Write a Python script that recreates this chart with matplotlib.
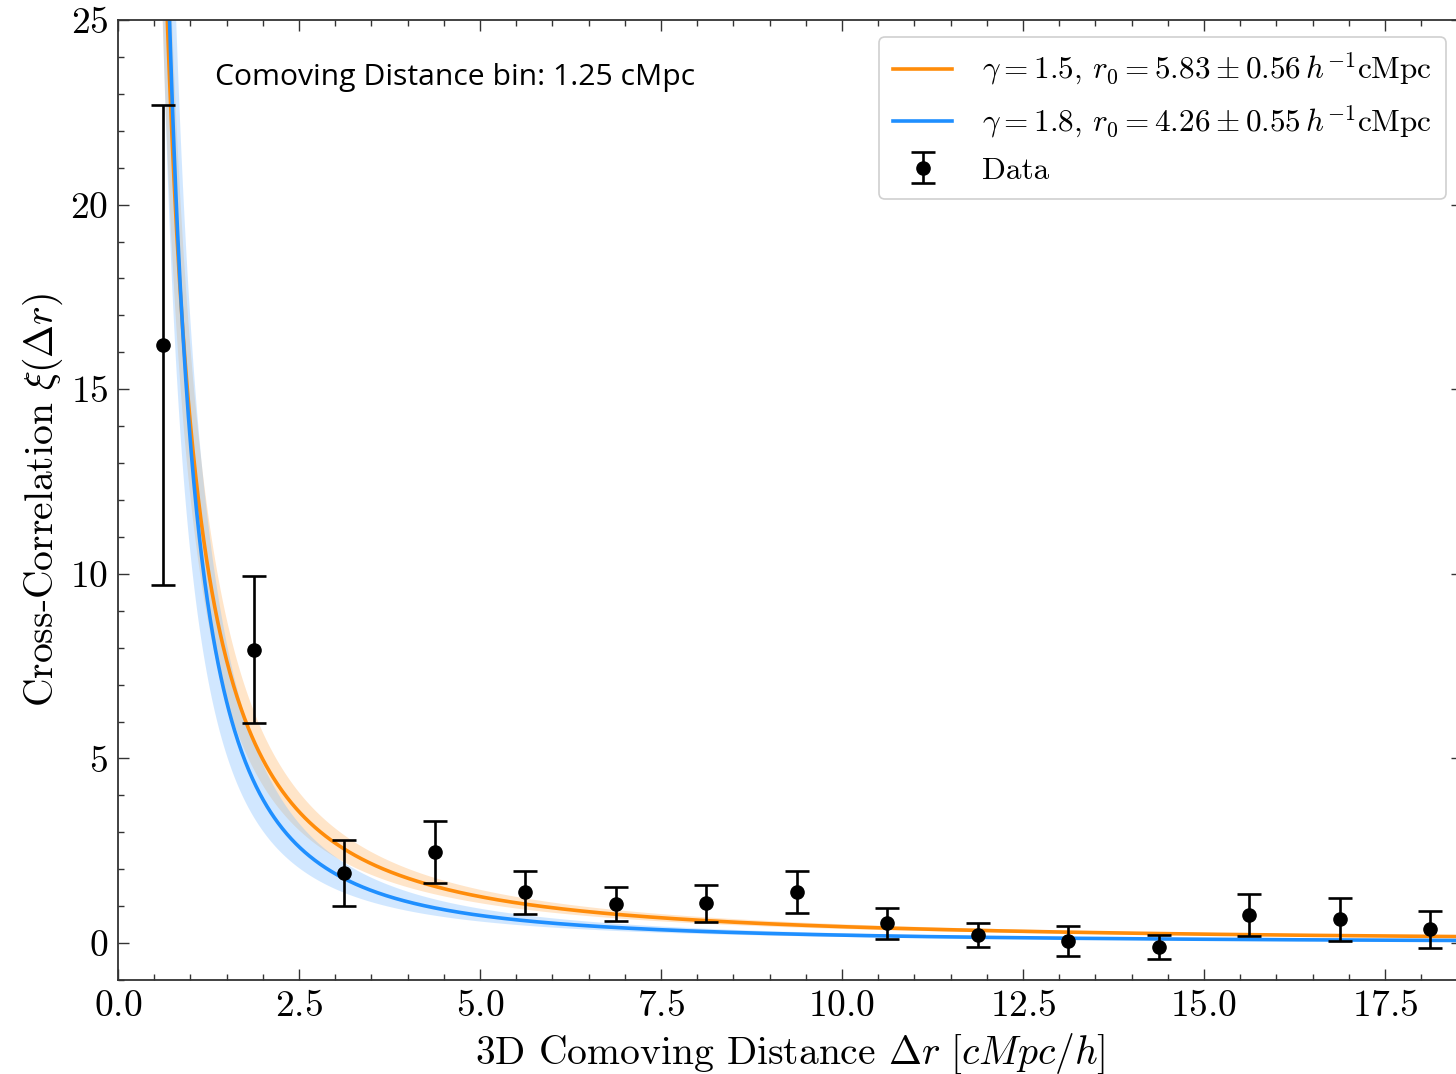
import numpy as np
import matplotlib
matplotlib.use("Agg")
import matplotlib.pyplot as plt

# Datos de la correlación cruzada (centros de bin de 1.25 cMpc/h)
r_bins = [0.625, 1.875, 3.125, 4.375, 5.625, 6.875, 8.125, 9.375,
          10.625, 11.875, 13.125, 14.375, 15.625, 16.875, 18.125]
xi_vals = [16.2, 7.95, 1.9, 2.46, 1.38, 1.06, 1.08, 1.38,
           0.54, 0.22, 0.05, -0.11, 0.76, 0.65, 0.38]
xi_errs = [6.5, 2.0, 0.9, 0.84, 0.58, 0.45, 0.5, 0.57,
           0.42, 0.33, 0.4, 0.33, 0.58, 0.58, 0.5]

# Parámetros de los ajustes de ley de potencias xi = (r/r0)^-gamma
gammas = [1.5, 1.8]
r0s = [5.83, 4.26]
r0_errs = [0.56, 0.55]
fit_colors = ["#ff8c0a", "#1f8fff"]
band_colors = ["#ffb566", "#7dbdff"]

def power_law(r, r0, gamma):
    return (r / r0) ** (-gamma)

def main():
    plt.rcParams["font.family"] = "serif"
    plt.rcParams["font.serif"] = ["cmr10", "DejaVu Serif"]
    plt.rcParams["mathtext.fontset"] = "cm"
    plt.rcParams["axes.formatter.use_mathtext"] = True
    plt.rcParams["axes.unicode_minus"] = False

    fig = plt.figure(figsize=(14.56, 10.74), dpi=100)
    # El eje derecho queda fuera de la imagen (recortado como en la original)
    ax = fig.add_axes([0.081, 0.0875, 0.923, 0.8939])

    r = np.linspace(0.3, 19.0, 1500)
    for g, r0, dr0, c, bc in zip(gammas, r0s, r0_errs, fit_colors, band_colors):
        lo = power_law(r, r0 - dr0, g)
        hi = power_law(r, r0 + dr0, g)
        ax.fill_between(r, lo, hi, color=bc, alpha=0.35, linewidth=0)
        ax.plot(r, power_law(r, r0, g), color=c, lw=2.6,
                label=rf"$\gamma = {g},\, r_0 = {r0:.2f} \pm {dr0:.2f}\, h^{{-1}}{{\rm cMpc}}$")

    ax.errorbar(r_bins, xi_vals, yerr=xi_errs, fmt="o", color="black",
                markersize=9.5, elinewidth=1.9, capsize=8.5, capthick=1.9,
                label="Data", zorder=5)

    ax.set_xlim(0, 18.56)
    ax.set_ylim(-1, 25)
    ax.set_xticks(np.arange(0, 18.0, 2.5))
    ax.set_yticks([0, 5, 10, 15, 20, 25])
    ax.xaxis.set_minor_locator(matplotlib.ticker.MultipleLocator(0.5))
    ax.yaxis.set_minor_locator(matplotlib.ticker.MultipleLocator(1))
    ax.tick_params(which="both", direction="in", top=True, right=True,
                   labelsize=27, width=1.0, colors="#333333", labelcolor="black")
    ax.tick_params(which="major", length=8, pad=7)
    ax.tick_params(which="minor", length=4)
    for s in ax.spines.values():
        s.set_linewidth(1.3)
        s.set_color("#333333")

    ax.set_xlabel(r"3D Comoving Distance $\Delta r\ [cMpc/h]$", fontsize=28.5, labelpad=6)
    ax.set_ylabel(r"Cross-Correlation $\xi(\Delta r)$", fontsize=28.5, labelpad=4)

    fig.text(215 / 1456, 1 - 77 / 1074, "Comoving Distance bin: 1.25 cMpc",
             family="Open Sans", fontsize=21.7, va="center", ha="left")

    leg = ax.legend(loc="upper right", bbox_to_anchor=(1446 / 1456, 1 - 37 / 1074),
                    bbox_transform=fig.transFigure, borderaxespad=0,
                    fontsize=22.5, frameon=True, fancybox=True, framealpha=1.0,
                    edgecolor="#d0d0d0", handlelength=1.9, handletextpad=0.95,
                    borderpad=0.45, labelspacing=0.5)
    leg.get_frame().set_linewidth(1.2)

    plt.savefig("out.png", dpi=100)

if __name__ == "__main__":
    main()
